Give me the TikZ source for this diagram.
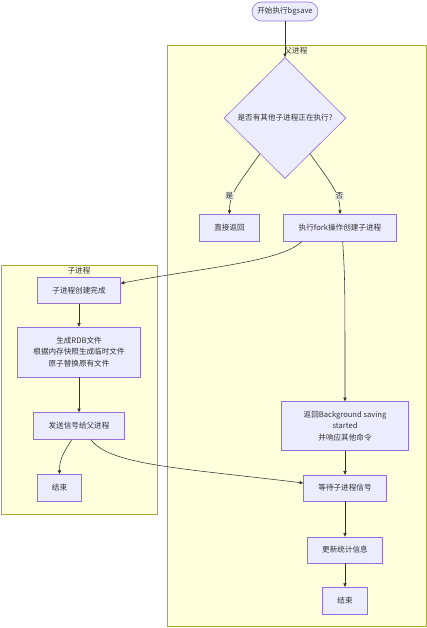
\documentclass[tikz,border=0pt]{standalone}
\usepackage{fontspec}
\setmainfont{Noto Sans CJK SC}
\usetikzlibrary{shapes.geometric,arrows.meta}
\definecolor{nfill}{HTML}{ECECFF}
\definecolor{nline}{HTML}{9370DB}
\definecolor{cfill}{HTML}{FFFFDE}
\definecolor{cline}{HTML}{AAAA33}
\definecolor{txt}{HTML}{333333}
\definecolor{lblbg}{HTML}{EBEBE6}
\tikzset{
  box/.style={draw=nline, fill=nfill, line width=0.6pt, inner sep=0pt, align=center, text=txt},
  cluster/.style={draw=cline, fill=cfill, line width=0.6pt, inner sep=0pt, anchor=north west},
  clabel/.style={text=txt, inner sep=0pt},
  edge/.style={draw=txt, line width=0.55pt, -{Triangle[length=3.5pt,width=3.2pt]}},
  lbl/.style={fill=lblbg, inner sep=0.8pt, text=txt},
}
\begin{document}
\begin{tikzpicture}[x=1pt,y=-1pt,font=\fontsize{7.6}{11.5}\selectfont]
\useasboundingbox (0,0) rectangle (427,628);
% clusters
\node[cluster, minimum width=259pt, minimum height=581pt] (par) at (167,45) {};
\node[clabel] (parlbl) at (296,50.7) {父进程};
\node[cluster, minimum width=156.5pt, minimum height=249pt] (chi) at (0.8,265) {};
\node[clabel] (chilbl) at (79,271) {子进程};
% nodes
\node[box, rounded corners=9.5pt, minimum width=66pt, minimum height=19pt] (start) at (285,11.5) {开始执行bgsave};
\node[box, shape=diamond, minimum width=122pt, minimum height=121pt] (dia) at (285,118) {是否有其他子进程正在执行?};
\node[box, minimum width=60pt, minimum height=27pt] (ret) at (229.5,227.7) {直接返回};
\node[box, minimum width=113pt, minimum height=27pt] (fork) at (340,227.7) {执行fork操作创建子进程};
\node[box, minimum width=83pt, minimum height=26pt] (ch1) at (79,290.3) {子进程创建完成};
\node[box, minimum width=123pt, minimum height=50pt] (rdb) at (79,352) {生成RDB文件\\根据内存快照生成临时文件\\原子替换原有文件};
\node[box, minimum width=91pt, minimum height=27pt] (send) at (79,426) {发送信号给父进程};
\node[box, minimum width=44pt, minimum height=27pt] (cend) at (59.5,487.7) {结束};
\node[box, minimum width=127pt, minimum height=49pt] (bg) at (345,426) {返回Background saving\\started\\并响应其他命令};
\node[box, minimum width=83pt, minimum height=26pt] (wait) at (345,488) {等待子进程信号};
\node[box, minimum width=75pt, minimum height=26pt] (upd) at (345,550) {更新统计信息};
\node[box, minimum width=45pt, minimum height=27pt] (pend) at (345,600.7) {结束};
% edges
\draw[edge] (start) -- (dia);
\draw[edge] (dia.235) .. controls (237,186) and (229.5,194) .. (ret.north);
\draw[edge] (dia.-55) .. controls (333,186) and (340,194) .. (fork.north);
\draw[edge] ([xshift=18.5pt]fork.south west) .. controls (282,262) and (200,268) .. ([yshift=7pt]ch1.east);
\draw[edge] ([xshift=2.7pt]fork.south) .. controls (345,280) .. (bg.north);
\draw[edge] (ch1) -- (rdb);
\draw[edge] (rdb) -- (send);
\draw[edge] ([xshift=-7.3pt]send.south) .. controls (62,455) and (59.5,460) .. (cend.north);
\draw[edge] ([xshift=12pt]send.south) .. controls (110,465) and (180,468) .. ([yshift=5pt]wait.west);
\draw[edge] (bg) -- (wait);
\draw[edge] (wait) -- (upd);
\draw[edge] (upd) -- (pend);
% edge labels
\node[lbl] (lyes) at (229.5,196) {是};
\node[lbl] (lno) at (339.5,196) {否};
\end{tikzpicture}
\end{document}
